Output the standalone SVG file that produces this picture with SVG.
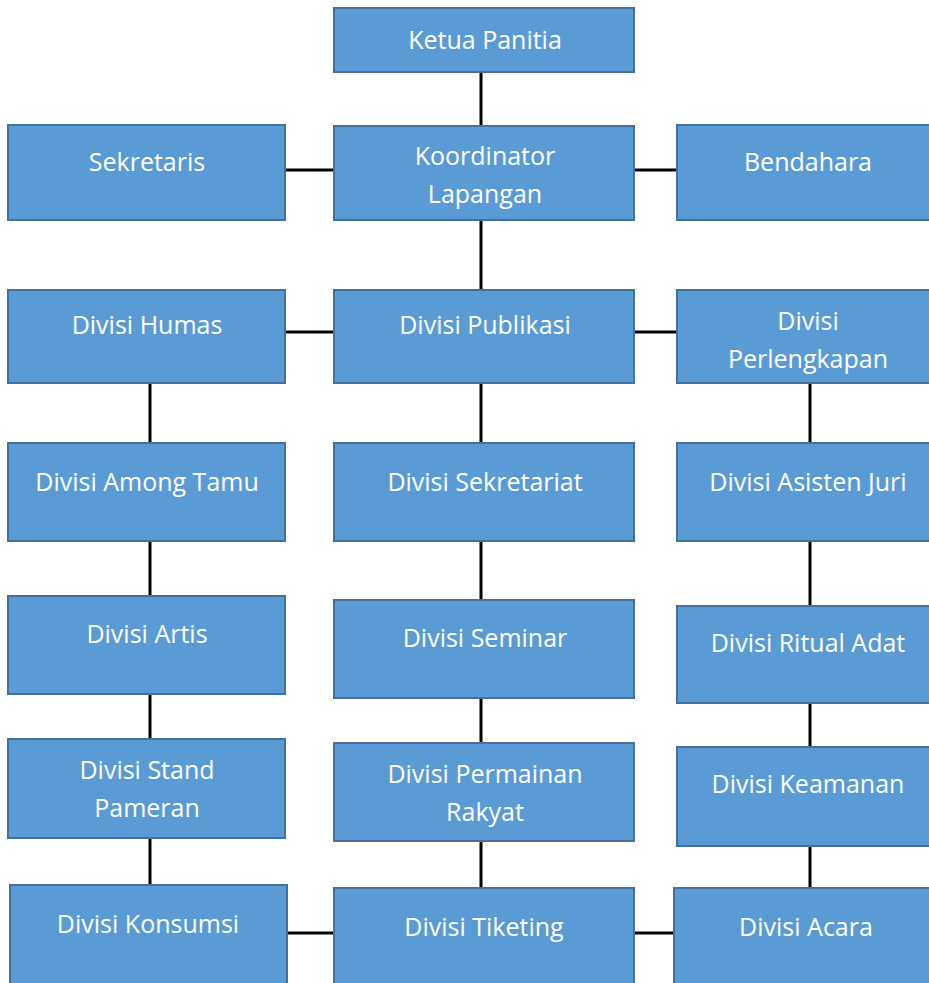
<svg xmlns="http://www.w3.org/2000/svg" width="929" height="983" viewBox="0 0 929 983">
<style>
.b{fill:#5B9BD5;stroke:#41719C;stroke-width:2}
.t{fill:#fff;font-family:"Open Sans",Lato,sans-serif;font-size:25px;text-anchor:middle}
.c{stroke:#000;stroke-width:3;fill:none}
</style>
<defs>
<clipPath id="cp"><rect x="677" y="290" width="262" height="93"/></clipPath>
</defs>
<rect width="929" height="983" fill="#fff"/>
<g id="connectors">
<path class="c" d="M481 72V126M481 220V290M285 170H334M634 170H677M285 332H334M634 332H677"/>
<path class="c" d="M150 383V443M150 541V596M150 694V739M150 838V885"/>
<path class="c" d="M481 383V443M481 541V600M481 698V743M481 841V888"/>
<path class="c" d="M810 383V443M810 541V606M810 703V747M810 846V888"/>
<path class="c" d="M287 933H334M634 933H674"/>
</g>
<g id="ketua"><rect class="b" x="334" y="8" width="300" height="64"/><text class="t" x="485" y="49">Ketua Panitia</text></g>
<g id="sekretaris"><rect class="b" x="8" y="125" width="277" height="95"/><text class="t" x="147" y="171">Sekretaris</text></g>
<g id="koordinator"><rect class="b" x="334" y="126" width="300" height="94"/><text class="t" x="485" y="165">Koordinator</text><text class="t" x="485" y="203">Lapangan</text></g>
<g id="bendahara"><rect class="b" x="677" y="125" width="262" height="95"/><text class="t" x="808" y="171">Bendahara</text></g>
<g id="humas"><rect class="b" x="8" y="290" width="277" height="93"/><text class="t" x="147" y="334">Divisi Humas</text></g>
<g id="publikasi"><rect class="b" x="334" y="290" width="300" height="93"/><text class="t" x="485" y="334">Divisi Publikasi</text></g>
<g id="perlengkapan"><rect class="b" x="677" y="290" width="262" height="93"/><g clip-path="url(#cp)"><text class="t" x="808" y="330">Divisi</text><text class="t" x="808" y="368">Perlengkapan</text></g></g>
<g id="amongtamu"><rect class="b" x="8" y="443" width="277" height="98"/><text class="t" x="147" y="491">Divisi Among Tamu</text></g>
<g id="sekretariat"><rect class="b" x="334" y="443" width="300" height="98"/><text class="t" x="485" y="491">Divisi Sekretariat</text></g>
<g id="asistenjuri"><rect class="b" x="677" y="443" width="262" height="98"/><text class="t" x="808" y="491">Divisi Asisten Juri</text></g>
<g id="artis"><rect class="b" x="8" y="596" width="277" height="98"/><text class="t" x="147" y="643">Divisi Artis</text></g>
<g id="seminar"><rect class="b" x="334" y="600" width="300" height="98"/><text class="t" x="485" y="647">Divisi Seminar</text></g>
<g id="ritualadat"><rect class="b" x="677" y="606" width="262" height="97"/><text class="t" x="808" y="652">Divisi Ritual Adat</text></g>
<g id="stand"><rect class="b" x="8" y="739" width="277" height="99"/><text class="t" x="147" y="779">Divisi Stand</text><text class="t" x="147" y="817">Pameran</text></g>
<g id="permainan"><rect class="b" x="334" y="743" width="300" height="98"/><text class="t" x="485" y="783">Divisi Permainan</text><text class="t" x="485" y="821">Rakyat</text></g>
<g id="keamanan"><rect class="b" x="677" y="747" width="262" height="99"/><text class="t" x="808" y="793">Divisi Keamanan</text></g>
<g id="konsumsi"><rect class="b" x="10" y="885" width="277" height="110"/><text class="t" x="148" y="933">Divisi Konsumsi</text></g>
<g id="tiketing"><rect class="b" x="334" y="888" width="300" height="110"/><text class="t" x="484" y="936">Divisi Tiketing</text></g>
<g id="acara"><rect class="b" x="674" y="888" width="265" height="110"/><text class="t" x="806" y="936">Divisi Acara</text></g>
</svg>
